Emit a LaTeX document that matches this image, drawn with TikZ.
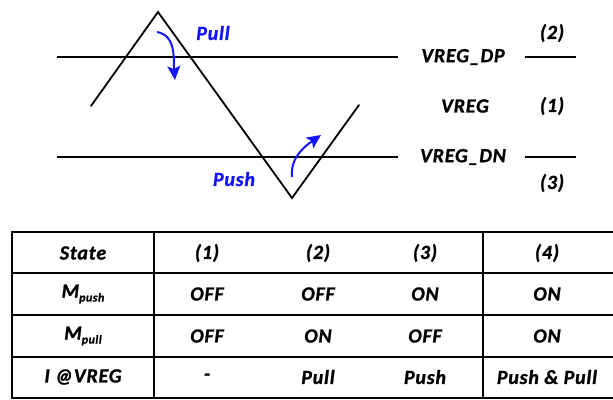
\documentclass[tikz,border=0pt]{standalone}
\usepackage{fontspec}
\setmainfont{Carlito}[BoldItalicFeatures={FakeBold=1.2,LetterSpace=4}]
\usetikzlibrary{arrows.meta}
\definecolor{arrblue}{RGB}{20,20,255}
\tikzset{
  lbl/.style={font=\fontsize{20}{20}\selectfont\bfseries\itshape, inner sep=0pt, anchor=center},
  bluelbl/.style={lbl, text=arrblue},
  wave/.style={line width=1.8pt, black, line cap=round, line join=miter},
  grid/.style={line width=1.8pt, black},
  curarrow/.style={line width=2pt, arrblue, -{Stealth[length=14pt,width=13pt,inset=3pt]}},
}
\newcommand{\subtxt}[1]{{\fontsize{12}{12}\selectfont\raisebox{-4pt}{#1}}}
\begin{document}
\begin{tikzpicture}[x=1pt,y=-1pt]
\useasboundingbox (0,0) rectangle (613,399);
% wave
\coordinate (w0) at (91,106);
\coordinate (w1) at (158,12);
\coordinate (w2) at (292,198);
\coordinate (w3) at (359,105);
\draw[wave] (w0) -- (w1) -- (w2) -- (w3);
% level lines
\coordinate (dpL) at (57,57);
\coordinate (dpR) at (398,57);
\coordinate (dnL) at (57,157);
\coordinate (dnR) at (398,157);
\draw[grid] (dpL) -- (dpR);
\draw[grid] (dnL) -- (dnR);
\coordinate (dp2L) at (525,57);
\coordinate (dp2R) at (576,57);
\coordinate (dn2L) at (525,157);
\coordinate (dn2R) at (576,157);
\draw[grid] (dp2L) -- (dp2R);
\draw[grid] (dn2L) -- (dn2R);
% labels
\node[lbl] (vdp) at (463,57) {VREG\_DP};
\node[lbl] (vreg) at (465,106) {VREG};
\node[lbl] (vdn) at (463,157) {VREG\_DN};
\node[lbl] (s2) at (552,33) {(2)};
\node[lbl] (s1) at (552,106) {(1)};
\node[lbl] (s3) at (552,183) {(3)};
\node[bluelbl] (pull) at (213,33) {Pull};
\node[bluelbl] (push) at (234,179) {Push};
% arrows
\coordinate (pa0) at (157,32);
\coordinate (pa1) at (175,80);
\draw[curarrow] (pa0) to[out=-10,in=95] (pa1);
\coordinate (pb0) at (292,177);
\coordinate (pb1) at (321,135);
\draw[curarrow] (pb0) to[out=95,in=215] (pb1);
% table (right border lies beyond the picture edge)
\foreach \yy in {232,273,315,357,398} \draw[grid] (11.1,\yy) -- (616,\yy);
\draw[grid] (12,232) -- (12,398);
\draw[grid] (154,232) -- (154,398);
\draw[grid] (483,232) -- (483,398);
% table text
\node[lbl] (h0) at (83,253) {State};
\node[lbl] (h1) at (207,253) {(1)};
\node[lbl] (h2) at (318,253) {(2)};
\node[lbl] (h3) at (425,253) {(3)};
\node[lbl] (h4) at (547,253) {(4)};
\node[lbl] (r10) at (83,294) {M\subtxt{push}};
\node[lbl] (r11) at (207,294) {OFF};
\node[lbl] (r12) at (318,294) {OFF};
\node[lbl] (r13) at (425,294) {ON};
\node[lbl] (r14) at (547,294) {ON};
\node[lbl] (r20) at (83,336) {M\subtxt{pull}};
\node[lbl] (r21) at (207,336) {OFF};
\node[lbl] (r22) at (318,336) {ON};
\node[lbl] (r23) at (425,336) {OFF};
\node[lbl] (r24) at (547,336) {ON};
\node[lbl] (r30) at (83,377) {I @VREG};
\node[lbl] (r31) at (207,377) {-};
\node[lbl] (r32) at (318,377) {Pull};
\node[lbl] (r33) at (425,377) {Push};
\node[lbl] (r34) at (547,377) {Push \& Pull};
\end{tikzpicture}
\end{document}
